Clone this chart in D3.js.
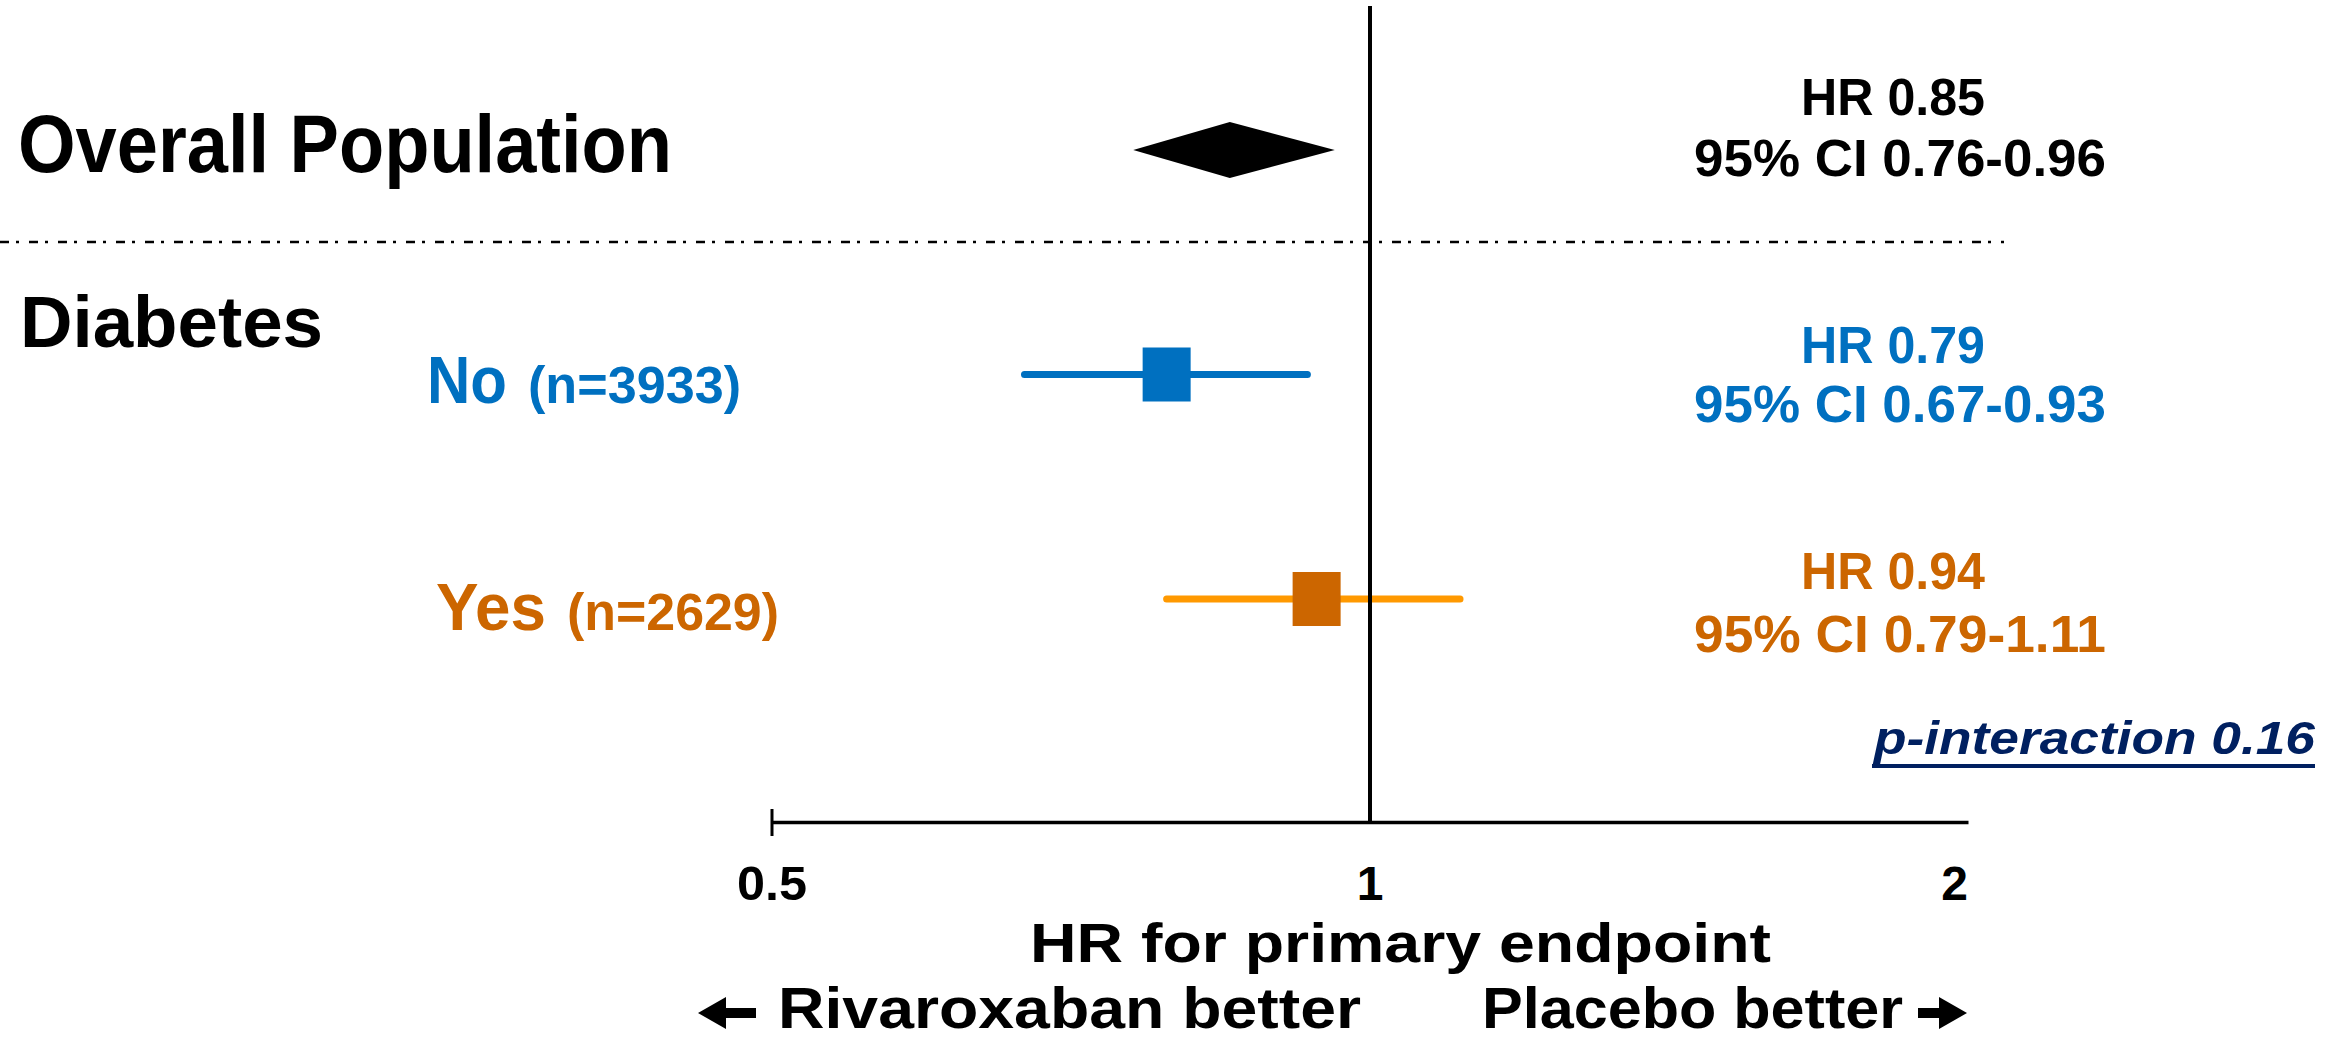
<!DOCTYPE html>
<html>
<head>
<meta charset="utf-8">
<script src="https://cdn.jsdelivr.net/npm/d3@7"></script>
<style>
  html, body { margin: 0; padding: 0; background: #fff; }
  svg { display: block; }
  text { font-family: "Liberation Sans", Arial, sans-serif; font-weight: bold; }
</style>
</head>
<body>
<div id="chart"></div>
<script>
// Forest plot: hazard ratio for the primary endpoint by diabetes status
const rowKeys   = ["overall", "no", "yes"];
const hrValues  = [0.85, 0.79, 0.94];
const ciLow     = [0.76, 0.67, 0.79];
const ciHigh    = [0.96, 0.93, 1.11];
const subgroups = ["No", "Yes"];
const nCounts   = [3933, 2629];
const tickValues = [0.5, 1, 2];
const tickLabels = ["0.5", "1", "2"];
const pInteraction = 0.16;

const W = 2340, H = 1041;
const BLACK = "#000000", BLUE = "#0070C0", ORANGE_LINE = "#FF9900", ORANGE = "#CC6600", NAVY = "#002060";
const rowColors = [BLACK, BLUE, ORANGE];
const ciColors  = [BLACK, BLUE, ORANGE_LINE];

const svg = d3.select("#chart").append("svg")
  .attr("width", W).attr("height", H);

// Log-scaled hazard ratio axis
const x = d3.scaleLog().domain([0.5, 2]).range([772, 1968]);
const y = d3.scalePoint().domain(rowKeys).range([150, 599]);
const axisY = 822;

// Separator between the overall result and the subgroup rows
svg.append("line")
  .attr("x1", 0).attr("x2", 2004)
  .attr("y1", 242).attr("y2", 242)
  .attr("stroke", "#000").attr("stroke-width", 2.5)
  .attr("stroke-dasharray", "9 7 3 10");

// Line of no effect (HR = 1)
svg.append("line")
  .attr("x1", x(1)).attr("x2", x(1))
  .attr("y1", 6).attr("y2", axisY)
  .attr("stroke", "#000").attr("stroke-width", 4);

// Axis
const axis = svg.append("g").attr("transform", `translate(0,${axisY})`)
  .call(d3.axisBottom(x).tickValues([]).tickSize(0).tickSizeOuter(0));
axis.select(".domain").attr("stroke", "#000").attr("stroke-width", 3.5);
svg.append("line")
  .attr("x1", x(tickValues[0])).attr("x2", x(tickValues[0]))
  .attr("y1", axisY - 13).attr("y2", axisY + 14)
  .attr("stroke", "#000").attr("stroke-width", 3);

svg.append("g").selectAll("text")
  .data(tickValues)
  .join("text")
  .attr("x", d => x(d))
  .attr("y", 900)
  .attr("text-anchor", (d, i) => i === tickValues.length - 1 ? "end" : "middle")
  .attr("font-size", 48)
  .attr("fill", "#000")
  .each(function (d, i) {
    if (tickLabels[i].length > 1) d3.select(this).attr("textLength", 70).attr("lengthAdjust", "spacingAndGlyphs");
  })
  .text((d, i) => tickLabels[i]);

// Overall: diamond spanning the confidence interval
const dy = 28;
svg.append("path")
  .attr("d", `M${x(ciLow[0])},${y("overall")} L${x(hrValues[0])},${y("overall") - dy} L${x(ciHigh[0])},${y("overall")} L${x(hrValues[0])},${y("overall") + dy} Z`)
  .attr("fill", "#000");

// Subgroups: CI whiskers and square point estimates
[1, 2].forEach(i => {
  const cy = y(rowKeys[i]);
  svg.append("line")
    .attr("x1", x(ciLow[i])).attr("x2", x(ciHigh[i]))
    .attr("y1", cy).attr("y2", cy)
    .attr("stroke", ciColors[i]).attr("stroke-width", 7)
    .attr("stroke-linecap", "round");
  svg.append("rect")
    .attr("x", x(hrValues[i]) - 24).attr("y", cy - 27)
    .attr("width", 48).attr("height", 54)
    .attr("fill", rowColors[i]);
});
// reference line stays on top of the orange whisker
svg.append("line")
  .attr("x1", x(1)).attr("x2", x(1))
  .attr("y1", y("yes") - 10).attr("y2", y("yes") + 10)
  .attr("stroke", "#000").attr("stroke-width", 4);

// Left-hand labels
function label(txt, xPos, yPos, size, color, len, extra) {
  const t = svg.append("text")
    .attr("x", xPos).attr("y", yPos)
    .attr("font-size", size).attr("fill", color)
    .text(txt);
  if (len) t.attr("textLength", len).attr("lengthAdjust", "spacingAndGlyphs");
  if (extra) extra(t);
  return t;
}
label("Overall Population", 18, 172, 81, "#000", 654);
label("Diabetes", 20, 347, 73, "#000", 303);

const subY = [403, 630];
const subX = [[427, 80, 528, 213], [436, 110, 567, 212]];
subgroups.forEach((s, i) => {
  const c = rowColors[i + 1];
  label(s, subX[i][0], subY[i], 67, c, subX[i][1]);
  label(`(n=${nCounts[i]})`, subX[i][2], subY[i], 51, c, subX[i][3]);
});

// Right-hand HR / CI annotations
const fmt = d3.format(".2f");
const annotY = [[115, 176], [363, 422], [589, 652]];
rowKeys.forEach((k, i) => {
  svg.append("text")
    .attr("x", 1893).attr("y", annotY[i][0])
    .attr("text-anchor", "middle").attr("font-size", 51)
    .attr("fill", rowColors[i])
    .attr("textLength", 184).attr("lengthAdjust", "spacingAndGlyphs")
    .text(`HR ${fmt(hrValues[i])}`);
  svg.append("text")
    .attr("x", 1900).attr("y", annotY[i][1])
    .attr("text-anchor", "middle").attr("font-size", 51)
    .attr("fill", rowColors[i])
    .attr("textLength", 412).attr("lengthAdjust", "spacingAndGlyphs")
    .text(`95% CI ${fmt(ciLow[i])}-${fmt(ciHigh[i])}`);
});

// Interaction p-value
label(`p-interaction ${pInteraction}`, 1874, 754, 46, NAVY, 441, t =>
  t.attr("font-style", "italic"));
svg.append("line")
  .attr("x1", 1872).attr("x2", 2315)
  .attr("y1", 766).attr("y2", 766)
  .attr("stroke", NAVY).attr("stroke-width", 4);

// Axis title and direction labels
label("HR for primary endpoint", 1030, 962, 56, "#000", 741);
label("Rivaroxaban better", 778, 1028, 58, "#000", 583);
label("Placebo better", 1482, 1028, 58, "#000", 421);

// Block arrows
const ay = 1013;
svg.append("path")
  .attr("d", `M698,${ay} L726,${ay - 16} L726,${ay - 5} L756,${ay - 5} L756,${ay + 5} L726,${ay + 5} L726,${ay + 16} Z`)
  .attr("fill", "#000");
svg.append("path")
  .attr("d", `M1967,${ay} L1939,${ay - 16} L1939,${ay - 5} L1918,${ay - 5} L1918,${ay + 5} L1939,${ay + 5} L1939,${ay + 16} Z`)
  .attr("fill", "#000");
</script>
</body>
</html>
